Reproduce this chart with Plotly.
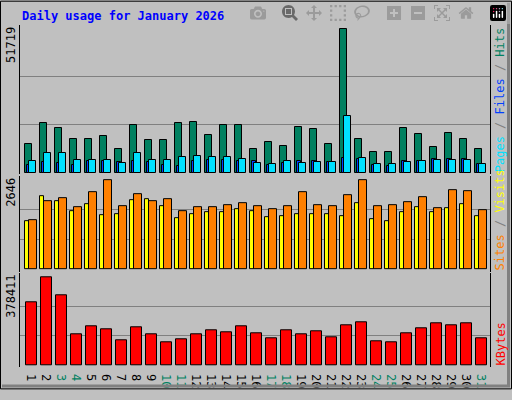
import plotly.graph_objects as go

days = list(range(1, 32))
weekend = [3, 4, 10, 11, 17, 18, 24, 25, 31]
hits = [10300,18000,15900,12050,12050,13100,8540,17300,11700,11700,17700,18400,13450,17000,17300,8540,11000,9600,16600,15560,10300,51719,12050,7490,7490,15900,13800,9240,14160,12050,8540]
files = [4330,7140,7140,4680,4680,4680,3280,7140,4680,4680,5730,6080,5730,5730,5030,3280,2930,3980,3280,3630,3630,20480,5380,2930,2930,3630,3980,4680,4680,4680,2930]
pages = [2570,3630,3280,2570,4330,4330,3630,4330,3630,2570,2220,3980,4680,4680,3980,3980,2570,3280,4330,3980,3630,5380,5030,2570,2220,3980,4330,5030,5030,5030,2930]
sites = [1410,2160,2010,1730,1930,1610,1640,2040,2070,1870,1500,1640,1700,1700,1790,1730,1530,1560,1640,1640,1640,1560,1960,1470,1410,1700,1850,1700,1820,1930,1580]
visits = [1440,2010,2100,1840,2270,2646,1870,2220,2010,2070,1730,1840,1840,1900,1960,1870,1790,1870,2270,1900,1870,2190,2646,1870,1900,1990,2130,1820,2330,2300,1760]
kbytes = [270500,378411,299000,133000,166300,153800,108000,162100,133000,99800,112300,133000,149600,141300,166300,137100,116400,149600,133000,145500,120600,170400,182900,103900,99800,137100,158000,178700,170400,178700,116400]

MAXTOP, MAXMID, MAXBOT = 51719, 2646, 378411
C_HITS, C_FILES, C_PAGES = "#008060", "#00E0FF", "#0040FF"
C_SITES, C_VISITS, C_KB = "#FFFF00", "#FF8000", "#FF0000"
LN = dict(color="black", width=1)

fig = go.Figure()
def bars(vals, off, w, col, ax):
    fig.add_trace(go.Bar(x=[d + off for d in days], y=vals, width=w,
                         marker=dict(color=col, line=LN), yaxis=ax, xaxis="x", showlegend=False))

bars(hits, -0.28, 0.47, C_HITS, "y")
bars(pages, -0.25, 0.27, C_PAGES, "y")
bars(files, -0.01, 0.47, C_FILES, "y")
bars(sites, -0.38, 0.27, C_SITES, "y2")
bars(visits, 0.0, 0.49, C_VISITS, "y2")
bars(kbytes, -0.1, 0.69, C_KB, "y3")

ticktext = [f"<span style='color:#008060'>{d}</span>" if d in weekend else str(d) for d in days]
mono = "DejaVu Sans Mono"
axcommon = dict(showline=True, linecolor="black", mirror=True, zeroline=False,
                showticklabels=False, ticks="", gridcolor="#808080", gridwidth=1)
fig.update_layout(
    width=512, height=400, paper_bgcolor="#C0C0C0", plot_bgcolor="#C0C0C0",
    margin=dict(l=20, r=22, t=25, b=23), barmode="overlay", bargap=0,
    font=dict(family=mono, size=12, color="black"),
    xaxis=dict(anchor="y3", range=[0.133, 31.47], tickvals=days, ticktext=ticktext, showgrid=False,
               showline=False, zeroline=False, ticks="", tickfont=dict(size=12, family=mono)),
    yaxis=dict(domain=[0.565, 1], range=[-460, 53250], tickvals=[MAXTOP/3, MAXTOP*2/3], **axcommon),
    yaxis2=dict(domain=[0.278, 0.558], range=[-78, 2753], tickvals=[MAXMID/3, MAXMID*2/3], **axcommon),
    yaxis3=dict(domain=[0, 0.274], range=[-7070, 393350], tickvals=[MAXBOT/3, MAXBOT*2/3], **axcommon),
)
W, H = 470, 352
def px(x): return (x - 20) / W
def py(y): return (377 - y) / H

ann = [
    dict(text="<b>Daily usage for January 2026</b>", x=px(20), y=py(16), xanchor="left", yanchor="middle",
         font=dict(color="#0000FF", size=12, family=mono)),
]
for val, ax in [(MAXTOP, "y"), (MAXMID, "y2"), (MAXBOT, "y3")]:
    ann.append(dict(text=str(val), textangle=-90, xref="paper", yref=f"{ax} domain", x=px(11), y=1,
                    xanchor="center", yanchor="top", font=dict(size=12, family=mono)))
right = [
    ("<span style='color:#00E0FF'>Pages</span> / <span style='color:#0040FF'>Files</span> / <span style='color:#008060'>Hits</span>", "y"),
    ("<span style='color:#FF8000'>Sites</span> / <span style='color:#FFFF00'>Visits</span>", "y2"),
    ("<span style='color:#FF0000'>KBytes</span>", "y3"),
]
for t, ax in right:
    ann.append(dict(text=t, textangle=-90, xref="paper", yref=f"{ax} domain", x=px(500), y=0.0,
                    xanchor="center", yanchor="bottom", font=dict(size=12, family=mono, color="#808080")))
for a in ann:
    a.setdefault("xref", "paper"); a.setdefault("yref", "paper"); a["showarrow"] = False
fig.update_layout(annotations=ann)
fig.update_layout(shapes=[
    dict(type="rect", xref="paper", yref="paper", x0=px(0.5), x1=px(511.5), y0=py(399.5), y1=py(0.5),
         line=dict(color="black", width=1)),
    dict(type="line", xref="paper", yref="paper", x0=px(508.5), x1=px(508.5), y0=py(397), y1=py(2),
         line=dict(color="#808080", width=3)),
    dict(type="line", xref="paper", yref="paper", x0=px(2), x1=px(510), y0=py(396.5), y1=py(396.5),
         line=dict(color="#808080", width=3)),
])
fig.write_html("out.html", post_script="document.body.style.margin='0';document.body.style.overflow='hidden';")
